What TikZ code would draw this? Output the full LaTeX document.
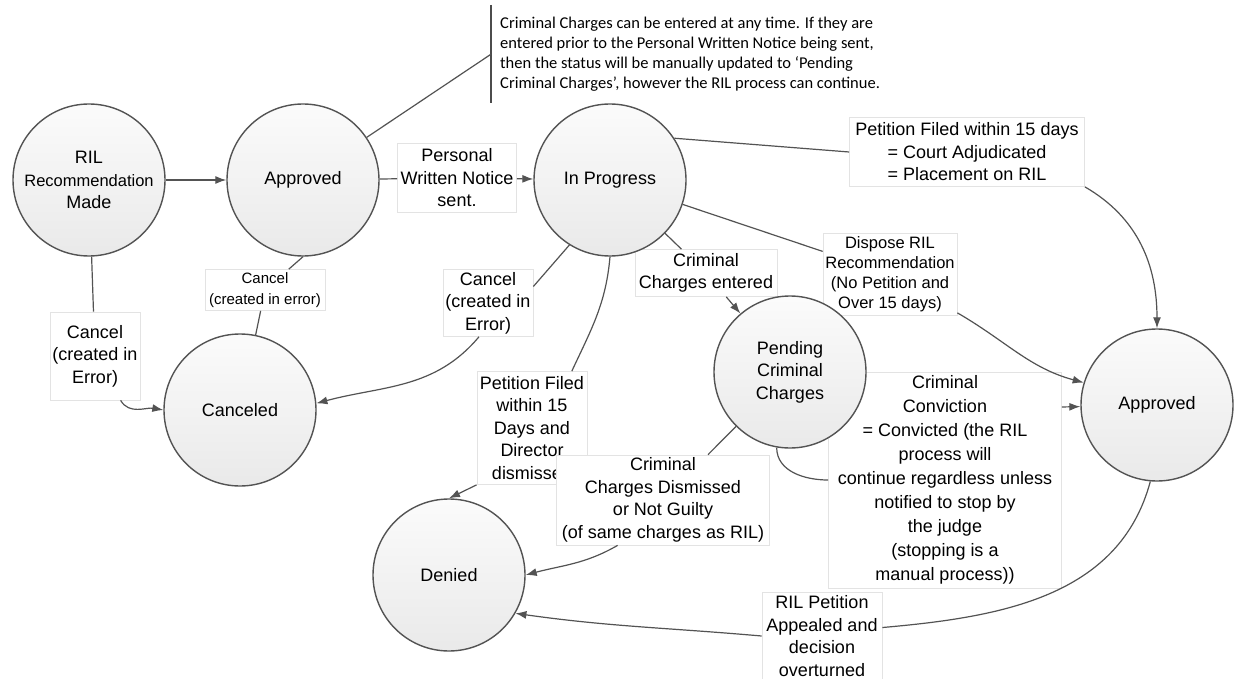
\documentclass[tikz,border=0pt]{standalone}
\usepackage{fontspec}
\setmainfont{Liberation Sans}
\newfontfamily\notefont{Carlito}
\usepackage{tikz}
\usetikzlibrary{calc}
\usetikzlibrary{shapes,arrows,arrows.meta,positioning}
\tikzstyle{state} = [circle, draw=gray!65!black, line width=1.4pt, minimum size=152pt,
    inner sep=0pt, top color=gray!3, bottom color=gray!17, align=center,
    font=\fontsize{18}{22.5}\selectfont]
\tikzstyle{lbl} = [rectangle, draw=gray!22, line width=0.7pt, fill=white, align=center,
    inner sep=2pt, font=\fontsize{18}{22.5}\selectfont]
\tikzstyle{notebox} = [rectangle, align=left, inner xsep=9pt, inner ysep=0pt,
    minimum height=98pt, font=\notefont\fontsize{16.5}{20}\selectfont]
\tikzstyle{line} = [draw, -{Latex[length=11pt,width=8pt]}]

\begin{document}
\begin{tikzpicture}[x=1pt, y=1pt, every edge/.style={draw, gray!65!black, line width=1.2pt}]
\fill[white] (0,0) rectangle (1236,-679);
\useasboundingbox (0,0) rectangle (1236,-679);
%Note:
\node[notebox, anchor=north west] (N_note) at (491,-5) {Criminal Charges can be entered at any time.  If they are\\entered prior to the Personal Written Notice being sent,\\then the status will be manually updated to ‘Pending\\Criminal Charges’, however the RIL process can continue.};
\draw[gray!60!black, line width=1.6pt] (N_note.north west) -- (N_note.south west);
%Labels:
\node[lbl, minimum width=90pt, minimum height=88pt] (L_RIL_cancel) at (95,-356) {Cancel\\(created in\\Error)};
\node[lbl, minimum width=120pt, minimum height=41pt, font=\fontsize{15}{21}\selectfont] (L_Appr_cancel) at (265,-290) {Cancel\\(created in error)};
\node[lbl, minimum width=119pt, minimum height=69pt] (L_notice) at (457,-178) {Personal\\Written Notice\\sent.};
\node[lbl, minimum width=90pt, minimum height=67pt] (L_IP_cancel) at (488,-303) {Cancel\\(created in\\Error)};
\node[lbl, minimum width=110pt, minimum height=113pt] (L_pet_denied) at (532,-428) {Petition Filed\\within 15\\Days and\\Director\\dismissed};
\node[lbl, minimum width=142pt, minimum height=47pt] (L_cc_entered) at (706,-273) {Criminal\\Charges entered};
\node[lbl, minimum width=235pt, minimum height=69pt] (L_court) at (967,-152) {Petition Filed within 15 days\\= Court Adjudicated\\= Placement on RIL};
\node[lbl, minimum width=134pt, minimum height=82pt, font=\fontsize{16.5}{20}\selectfont] (L_dispose) at (890,-274) {Dispose RIL\\Recommendation\\(No Petition and\\Over 15 days)};
\node[lbl, minimum width=213pt, minimum height=90pt] (L_dismissed) at (663,-500) {Criminal\\Charges Dismissed\\or Not Guilty\\(of same charges as RIL)};
\node[lbl, minimum width=233pt, minimum height=216pt, font=\fontsize{18}{24}\selectfont] (L_conviction) at (945,-480) {Criminal\\Conviction\\= Convicted  (the RIL\\process will\\continue regardless unless\\notified to stop by\\the judge\\(stopping is a\\manual process))};
\node[lbl, minimum width=120pt, minimum height=88pt] (L_appeal) at (822,-636) {RIL Petition\\Appealed and\\decision\\overturned};
%States:
\node[state] (S_RIL) at (89,-180) {RIL\\{\fontsize{16.5}{22.5}\selectfont Recommendation}\\Made};
\node[state, right of = S_RIL, node distance = 214pt] (S_Appr) {Approved};
\node[state, right of = S_Appr, node distance = 307pt] (S_InProg) {In Progress};
\node[state] (S_Cancel) at (240,-410) {Canceled};
\node[state] (S_Pend) at (790,-372) {Pending\\Criminal\\Charges};
\node[state] (S_ApprF) at (1157,-405) {Approved};
\node[state] (S_Denied) at (449,-575) {Denied};
%Transitions:
\path(S_RIL)edge[line](S_Appr);
\path(S_RIL)edge(L_RIL_cancel);
\path(L_RIL_cancel.-60)edge[line,out=-60,in=170](S_Cancel.west);
\path(S_Appr.south)edge(L_Appr_cancel);
\path(L_Appr_cancel)edge(S_Cancel);
\path(S_Appr)edge(N_note.west);
\path(S_Appr)edge(L_notice);
\path(L_notice)edge[line](S_InProg);
\path(S_InProg.-122)edge(L_IP_cancel.20);
\path(L_IP_cancel.-105)edge[line,out=-130,in=15](S_Cancel.5);
\path(S_InProg.south)edge[out=-95,in=65](L_pet_denied.55);
\path(L_pet_denied.south west)edge[line](S_Denied.north);
\path(S_InProg)edge(L_cc_entered);
\path(L_cc_entered)edge[line](S_Pend);
\path(S_InProg.33)edge(L_court.west);
\path(L_court.south east)edge[line,out=-30,in=90](S_ApprF.north);
\path(S_InProg)edge(L_dispose);
\path(L_dispose)edge[line,out=-30,in=165](S_ApprF.163);
\path(S_Pend)edge(L_dismissed);
\path(L_dismissed.-135)edge[line,out=-150,in=15](S_Denied.east);
\path(S_Pend.-100)edge[out=-90,in=180](L_conviction.west);
\path(L_conviction.32)edge[line](S_ApprF);
\path(S_ApprF.-95)edge[out=-105,in=5](L_appeal.8);
\path(L_appeal.west)edge[line,out=175,in=-8](S_Denied.-30);
\end{tikzpicture}
\end{document}
